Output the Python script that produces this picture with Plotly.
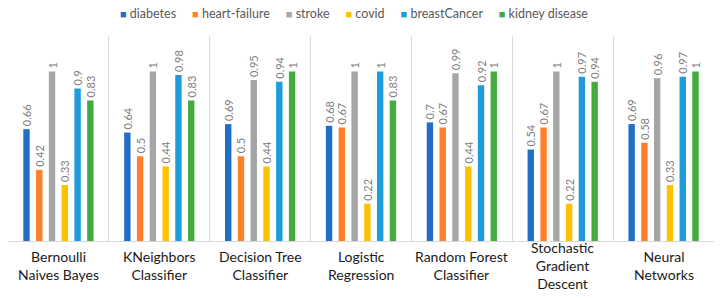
import plotly.graph_objects as go

categories = [
    "Bernoulli<br>Naives Bayes",
    "KNeighbors<br>Classifier",
    "Decision Tree<br>Classifier",
    "Logistic<br>Regression",
    "Random Forest<br>Classifier",
    "Stochastic<br>Gradient<br>Descent",
    "Neural<br>Networks",
]

diabetes = [0.66, 0.64, 0.69, 0.68, 0.70, 0.54, 0.69]
heart_failure = [0.42, 0.50, 0.50, 0.67, 0.67, 0.67, 0.58]
stroke = [1, 1, 0.95, 1, 0.99, 1, 0.96]
covid = [0.33, 0.44, 0.44, 0.22, 0.44, 0.22, 0.33]
breast_cancer = [0.90, 0.98, 0.94, 1, 0.92, 0.97, 0.97]
kidney_disease = [0.83, 0.83, 1, 0.83, 1, 0.94, 1]

series = [
    ("diabetes", diabetes, "#1F6FC6"),
    ("heart-failure", heart_failure, "#FF7F2A"),
    ("stroke", stroke, "#A5A5A5"),
    ("covid", covid, "#FFC000"),
    ("breastCancer", breast_cancer, "#1E9BDA"),
    ("kidney disease", kidney_disease, "#43AC3C"),
]

FONT = "Lato, Liberation Sans, sans-serif"

fig = go.Figure()
for name, vals, color in series:
    fig.add_trace(go.Bar(
        name=name, x=categories, y=vals,
        marker=dict(color=color, line=dict(width=0)),
        text=[f"{v:g}" for v in vals],
        textposition="outside", textangle=-90, constraintext="none",
        textfont=dict(size=11, color="#808080", family=FONT),
        cliponaxis=False, showlegend=False,
    ))

# category labels, vertically centred under each group
for cat in categories:
    fig.add_annotation(x=cat, xref="x", y=0, yref="paper", yanchor="middle", yshift=-24,
                       text=cat, showarrow=False, align="center",
                       font=dict(size=14, color="#1A1A1A", family=FONT))

# compact legend row
legend_text = "&nbsp;&nbsp;&nbsp;&nbsp;&nbsp;".join(
    f"<span style='color:{c}; font-size:11px'>■</span>&nbsp;{n}" for n, _, c in series
)
fig.add_annotation(x=0.49, xref="paper", y=1.0, yref="paper", yanchor="middle", yshift=23,
                   text=legend_text, showarrow=False,
                   font=dict(size=12.5, color="#595959", family=FONT))

fig.update_layout(
    width=726, height=298,
    margin=dict(l=8, r=12, t=36, b=57),
    barmode="group", bargap=0.24, bargroupgap=0.5,
    plot_bgcolor="white", paper_bgcolor="white",
    font=dict(family=FONT, color="#595959"),
    showlegend=False,
)
fig.update_xaxes(
    type="category", tickson="boundaries", showgrid=True, gridcolor="#D9D9D9", gridwidth=1,
    showline=True, linecolor="#D9D9D9", linewidth=1, ticks="", showticklabels=False,
    automargin=False, range=[-0.5, 6.5],
)
fig.update_yaxes(range=[0, 1.21], showgrid=False, showticklabels=False, zeroline=False,
                 showline=False)

fig.write_html("out.html", config={"displayModeBar": False},
               post_script="document.body.style.margin='0px'; document.body.style.padding='0px';")
